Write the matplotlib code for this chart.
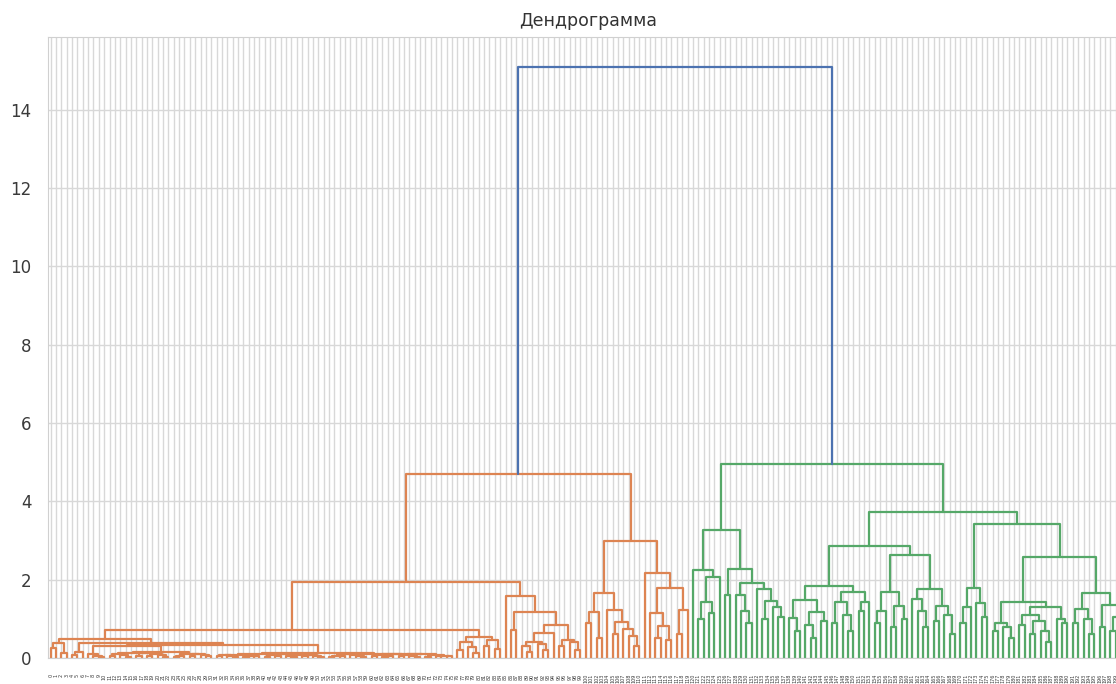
import matplotlib
matplotlib.use("Agg")
import matplotlib.pyplot as plt
import seaborn as sns

# tree nodes are [merge height, left, right]; 0 marks a single leaf
a1 = [0.38, [0.26, 0, 0], [0.12, 0, 0]]
p_small = [0.15, [0.08, 0, 0], 0]
q2a = [0.15,
       [0.14, [0.1, [0.05, 0, 0], [0.07, 0, [0.03, 0, 0]]],
        [0.12, [0.06, 0, 0], [0.09, [0.04, 0, 0], [0.08, 0, [0.02, 0, 0]]]]],
       [0.11, [0.06, [0.03, 0, 0], 0], [0.09, [0.05, 0, 0], [0.07, 0, [0.04, 0, 0]]]]]
q1 = [0.3, [0.1, 0, [0.05, 0, [0.03, 0, 0]]], q2a]
q2b = [0.13,
       [0.1,
        [0.085, [0.08, [0.04, 0, 0], [0.06, 0, [0.03, 0, 0]]],
         [0.05, [0.02, 0, 0], [0.04, 0, 0]]],
        [0.09, [0.07, [0.03, 0, 0], [0.05, 0, 0]],
         [0.08, [0.06, 0, [0.02, 0, 0]], [0.07, [0.04, 0, 0], [0.05, 0, [0.03, 0, 0]]]]]],
       [0.11,
        [0.09, [0.06, [0.03, 0, 0], [0.04, 0, 0]], [0.07, 0, [0.05, 0, [0.02, 0, 0]]]],
        [0.1, [0.08, [0.05, 0, 0], [0.06, [0.03, 0, 0], 0]],
         [0.09, [0.07, [0.04, 0, 0], [0.05, 0, [0.02, 0, 0]]],
          [0.08, [0.03, 0, 0], [0.06, [0.04, 0, 0], [0.05, 0, 0]]]]]]]
la_right = [0.54, [0.4, [0.2, 0, 0], [0.28, 0, [0.12, 0, 0]]],
            [0.45, [0.3, 0, 0], [0.22, 0, 0]]]
lb = [1.58, 0, [1.18, [0.72, 0, 0],
                [0.84, [0.64, [0.41, [0.3, 0, [0.15, 0, 0]], [0.35, 0, [0.2, 0, 0]]], 0],
                 [0.46, [0.3, 0, 0], [0.4, 0, [0.2, 0, 0]]]]]]
r1 = [1.65, [1.18, [0.89, 0, 0], [0.5, 0, 0]],
      [1.22, 0, [0.92, [0.6, 0, 0], [0.75, 0, [0.55, 0, [0.3, 0, 0]]]]]]
r2 = [2.17, 0, [1.78, [1.15, 0, [0.82, [0.5, 0, 0], [0.45, 0, 0]]],
                [1.22, [0.6, 0, 0], 0]]]

g1a = [2.25, 0, [2.07, [1.43, [1.0, 0, 0], [1.15, 0, 0]], 0]]
g1b = [2.27, [1.6, 0, 0],
       [1.92, [1.6, 0, [1.2, 0, [0.9, 0, 0]]],
        [1.75, 0, [1.45, [1.0, 0, 0], [1.3, 0, [1.05, 0, 0]]]]]]
g2a1 = [1.84,
        [1.48, [1.02, 0, [0.7, 0, 0]], [1.18, [0.85, 0, [0.5, 0, 0]], [0.95, 0, 0]]],
        [1.69, [1.43, [0.9, 0, 0], [1.1, 0, [0.7, 0, 0]]], [1.43, [1.2, 0, 0], 0]]]
g2a2 = [2.63,
        [1.69, [1.2, [0.9, 0, 0], 0], [1.33, [0.8, 0, 0], [1.0, 0, 0]]],
        [1.76, [1.5, 0, [1.2, 0, [0.8, 0, 0]]], [1.33, [0.95, 0, 0], [1.1, 0, [0.6, 0, 0]]]]]
g2b1 = [1.78, [1.3, [0.9, 0, 0], 0], [1.4, 0, [1.05, 0, 0]]]
g2b2 = [2.58,
        [1.43, [0.9, [0.7, 0, 0], [0.8, 0, [0.5, 0, 0]]],
         [1.3, [1.1, [0.85, 0, 0], [0.95, [0.6, 0, 0], [0.7, 0, [0.4, 0, 0]]]],
          [1.0, 0, [0.9, 0, 0]]]],
        [1.66, [1.25, [0.9, 0, 0], [1.0, 0, [0.6, 0, 0]]],
         [1.35, [0.8, 0, 0], [1.05, [0.7, 0, 0], [0.9, 0, 0]]]]]

orange_tree = [4.7, [1.94, [0.72, [0.49, a1, [0.38, p_small, [0.34, q1, q2b]]], la_right], lb],
               [2.99, r1, r2]]
green_tree = [4.95, [3.27, g1a, g1b], [3.73, [2.86, g2a1, g2a2], [3.42, g2b1, g2b2]]]
root_height = 15.1

sns.set_style("whitegrid")
plt.rcParams["font.family"] = ["DejaVu Sans"]

fig = plt.figure(figsize=(11.16, 6.84), dpi=100)
ax = fig.add_axes([48 / 1116, 26 / 684, 1081 / 1116, 621 / 684])

leaf_x = []


def draw(node, color):
    if node == 0:
        x = 5 + 10 * len(leaf_x)
        leaf_x.append(x)
        return x, 0.0
    h, left, right = node
    xl, hl = draw(left, color)
    xr, hr = draw(right, color)
    ax.plot([xl, xl, xr, xr], [hl, h, h, hr], color=color, lw=1.6)
    return (xl + xr) / 2, h


xo, ho = draw(orange_tree, "#dd8452")
xg, hg = draw(green_tree, "#55a868")
ax.plot([xo, xo, xg, xg], [ho, root_height, root_height, hg], color="#4c72b0", lw=1.6)

n = len(leaf_x)
ax.set_xlim(0, 10 * n)
ax.set_ylim(0, root_height * 1.05)
ax.set_xticks(leaf_x)
ax.set_xticklabels([str(i) for i in range(n)], rotation=90, fontsize=3.5)
ax.set_yticks(range(0, 16, 2))
ax.tick_params(axis="y", labelsize=12, pad=8.5, colors="#3a3a3a")
ax.tick_params(axis="x", pad=8, colors="#3a3a3a")
for s in ax.spines.values():
    s.set_color("#d0d0d0")
ax.grid(True, color="#d8d8d8", lw=1.0)
ax.set_title("Дендрограмма", fontsize=12.5, color="#333333", pad=8)

fig.savefig("out.png", dpi=100)
